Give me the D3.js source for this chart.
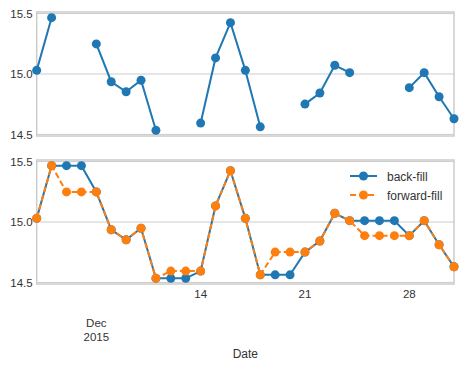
<!DOCTYPE html>
<html>
<head>
<meta charset="utf-8">
<script src="https://cdn.jsdelivr.net/npm/d3@7"></script>
<style>
  body { margin: 0; background: #fff; }
  svg text { font-family: "Liberation Sans", Arial, sans-serif; fill: #333; }
</style>
</head>
<body>
<div id="chart"></div>
<script>
// days of December 2015
const days = [3,4,5,6,7,8,9,10,11,12,13,14,15,16,17,18,19,20,21,22,23,24,25,26,27,28,29,30,31];

// raw series, null = missing
const rawValues = [15.03,15.466,null,null,15.249,14.936,14.853,14.948,14.534,null,null,14.594,15.133,15.425,15.03,14.563,null,null,14.751,14.843,15.072,15.011,null,null,null,14.887,15.011,14.812,14.63];

// lower panel
const backFill = [15.03,15.466,15.466,15.466,15.249,14.936,14.853,14.948,14.534,14.534,14.534,14.594,15.133,15.425,15.03,14.563,14.563,14.563,14.751,14.843,15.072,15.011,15.011,15.011,15.011,14.887,15.011,14.812,14.63];
const forwardFill = [15.03,15.466,15.249,15.249,15.249,14.936,14.853,14.948,14.534,14.594,14.594,14.594,15.133,15.425,15.03,14.563,14.751,14.751,14.751,14.843,15.072,15.011,14.887,14.887,14.887,14.887,15.011,14.812,14.63];

const yTicks = [14.5, 15.0, 15.5];
const xMinorTicks = [14, 21, 28];
const xMajorTick = { day: 7, lines: ["Dec", "2015"] };
const legendLabels = ["back-fill", "forward-fill"];

const W = 463, H = 366;
const left = 36.7, right = 454;
const panels = [{ top: 12, bottom: 136 }, { top: 160, bottom: 284 }];
const blue = "#1f77b4", orange = "#ff7f0e";

const svg = d3.select("#chart").append("svg")
    .attr("width", W)
    .attr("height", H);

const date = d => new Date(Date.UTC(2015, 11, d));

let x = d3.scaleUtc()
    .domain([date(3), date(31)])
    .range([left, right]);

function drawPanel(p) {
    const y = d3.scaleLinear().domain([14.487, 15.513]).range([p.bottom, p.top]);
    const g = svg.append("g");

    // grid
    g.selectAll(".grid")
        .data(yTicks)
        .enter()
        .append("line")
        .attr("x1", left).attr("x2", right)
        .attr("y1", d => y(d)).attr("y2", d => y(d))
        .attr("stroke", "#cccccc")
        .attr("stroke-width", 1);

    // y axis labels
    const yAxis = g.append("g")
        .attr("transform", `translate(${left},0)`)
        .call(d3.axisLeft(y).tickValues(yTicks).tickSize(0).tickPadding(4).tickFormat(d3.format(".1f")));
    yAxis.select(".domain").remove();
    yAxis.selectAll("text")
        .style("font-size", "11.5px")
        .style("font-family", "Liberation Sans, Arial, sans-serif")
        .attr("fill", "#333");

    // frame
    g.append("rect")
        .attr("x", left).attr("y", p.top)
        .attr("width", right - left).attr("height", p.bottom - p.top)
        .attr("fill", "none")
        .attr("stroke", "#cccccc")
        .attr("stroke-width", 1.5);

    return { g, y };
}

function drawSeries(g, y, values, color, dashed) {
    const pts = days.map((d, i) => ({ d, v: values[i] }));
    g.append("path")
        .datum(pts)
        .attr("fill", "none")
        .attr("stroke", color)
        .attr("stroke-width", 2)
        .attr("stroke-dasharray", dashed ? "6,3" : null)
        .attr("d", d3.line()
            .defined(d => d.v !== null)
            .x(d => x(date(d.d)))
            .y(d => y(d.v)));

    g.selectAll(null)
        .data(pts.filter(d => d.v !== null))
        .enter()
        .append("circle")
        .attr("cx", d => x(date(d.d)))
        .attr("cy", d => y(d.v))
        .attr("r", 4.5)
        .attr("fill", color);
}

// ----- top panel
const upper = drawPanel(panels[0]);
drawSeries(upper.g, upper.y, rawValues, blue, false);

// ----- bottom panel
const lower = drawPanel(panels[1]);
drawSeries(lower.g, lower.y, backFill, blue, false);
drawSeries(lower.g, lower.y, forwardFill, orange, true);

// x tick labels (bottom panel only)
svg.selectAll(".xt")
    .data(xMinorTicks)
    .enter()
    .append("text")
    .attr("x", d => x(date(d)))
    .attr("y", 298)
    .attr("text-anchor", "middle")
    .style("font-size", "11.5px")
    .text(d => d);

const major = svg.append("text")
    .attr("x", x(date(xMajorTick.day)))
    .attr("y", 327)
    .attr("text-anchor", "middle")
    .style("font-size", "11.5px");
xMajorTick.lines.forEach((t, i) => {
    major.append("tspan")
        .attr("x", x(date(xMajorTick.day)))
        .attr("dy", i === 0 ? 0 : 14)
        .text(t);
});

svg.append("text")
    .attr("x", (left + right) / 2)
    .attr("y", 358)
    .attr("text-anchor", "middle")
    .style("font-size", "12px")
    .text("Date");

// legend
const legend = svg.append("g").attr("transform", "translate(350,176)");
legendLabels.forEach((lab, i) => {
    const c = i === 0 ? blue : orange;
    const row = legend.append("g").attr("transform", `translate(0,${i * 19})`);
    row.append("line")
        .attr("x1", 0).attr("x2", 27)
        .attr("stroke", c)
        .attr("stroke-width", 2)
        .attr("stroke-dasharray", i === 1 ? "6,3" : null);
    row.append("circle").attr("cx", 13.5).attr("r", 4.5).attr("fill", c);
    row.append("text")
        .attr("x", 37).attr("y", 4.5)
        .style("font-size", "12px")
        .text(lab);
});
</script>
</body>
</html>
